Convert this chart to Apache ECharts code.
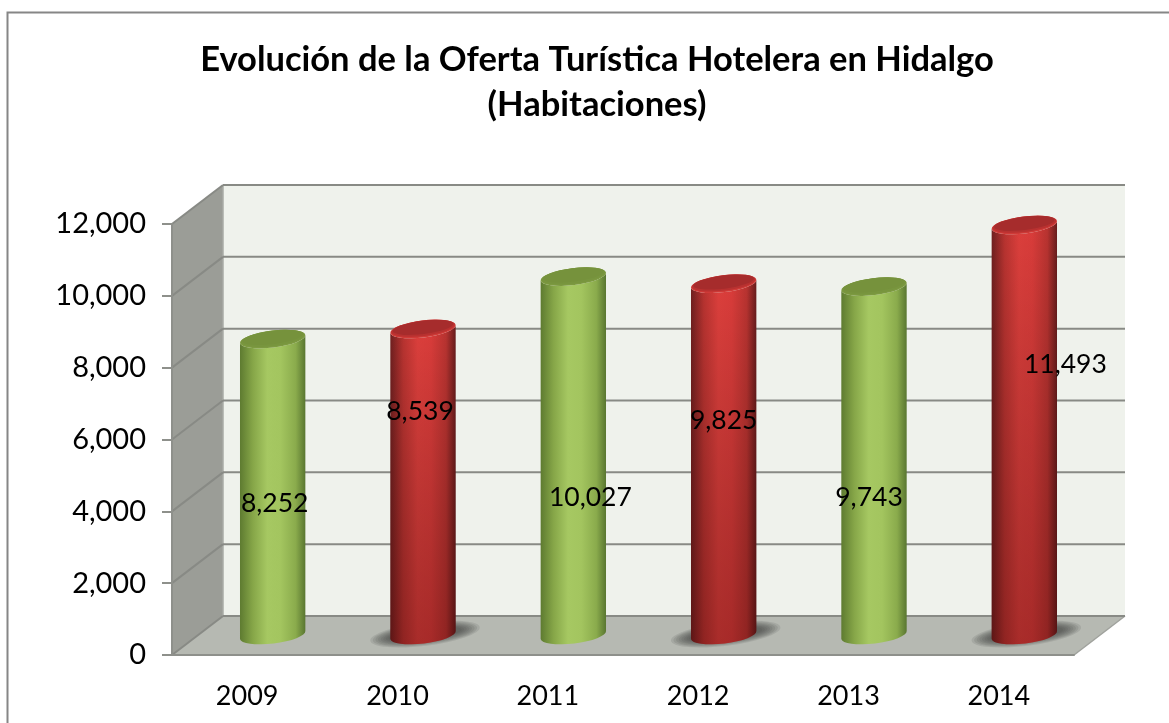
<!DOCTYPE html>
<html>
<head>
<meta charset="utf-8">
<title>Oferta Turística Hotelera en Hidalgo</title>
<script src="https://cdn.jsdelivr.net/npm/echarts@6/dist/echarts.min.js"></script>
<style>
    html, body { margin: 0; padding: 0; background: #fff; }
    #main { width: 1169px; height: 723px; }
</style>
</head>
<body>
<div id="main"></div>
<script>
var years = ['2009', '2010', '2011', '2012', '2013', '2014'];
var rooms = [8252, 8539, 10027, 9825, 9743, 11493];
var barKinds = ['green', 'red', 'green', 'red', 'green', 'red'];
var yTicks = [0, 2000, 4000, 6000, 8000, 10000, 12000];

// labels were dragged by hand in the original, px from the top of each cylinder
var labelShift = [[2, 164], [-3, 83], [17, 221], [0, 137], [-5, 211], [41, 139]];

var FONT = 'Lato, "Open Sans", sans-serif';
var DEPTH_X = 51, DEPTH_Y = -39; // back wall offset
var BAR_X = 25.5, BAR_Y = -20;   // cylinders stand mid floor
var BAR_SCALE = 0.98, BAR_LIFT = 5.5; // heights shrink a bit mid floor in the 3d view
var TILT = -7;

var palette = {
    green: {
        side: ['#5d7a30', '#86a648', '#a6c862', '#a3c55f', '#8aab4c', '#587530'],
        rim: '#7d9a41', mid: '#78953e', inner: '#76923c', shade: 'rgba(0,0,0,0)'
    },
    red: {
        side: ['#6e1f1f', '#b83330', '#dc3f3c', '#d93c3a', '#b83330', '#651c1c'],
        rim: '#cf3a37', mid: '#b83130', inner: '#a62c2c', shade: 'rgba(50,0,0,0.3)'
    }
};

function ellipsePath(cx, cy, rx, ry) {
    var a = TILT * Math.PI / 180;
    var ax = rx * Math.cos(a), ay = rx * Math.sin(a);
    return 'M' + (cx - ax) + ' ' + (cy - ay) +
        'A' + rx + ' ' + ry + ' ' + TILT + ' 1 1 ' + (cx + ax) + ' ' + (cy + ay) +
        'A' + rx + ' ' + ry + ' ' + TILT + ' 1 1 ' + (cx - ax) + ' ' + (cy - ay) + 'Z';
}

function bodyPath(cx, topY, botY, rx, ry) {
    var a = TILT * Math.PI / 180;
    var ax = rx * Math.cos(a), ay = rx * Math.sin(a);
    return 'M' + (cx - ax) + ' ' + (topY - ay) +
        'L' + (cx - ax) + ' ' + (botY - ay) +
        'A' + rx + ' ' + ry + ' ' + TILT + ' 0 0 ' + (cx + ax) + ' ' + (botY + ay) +
        'L' + (cx + ax) + ' ' + (topY + ay) +
        'A' + rx + ' ' + ry + ' ' + TILT + ' 0 1 ' + (cx - ax) + ' ' + (topY - ay) + 'Z';
}

function sideFill(stops) {
    return new echarts.graphic.LinearGradient(0, 0, 1, 0, [
        {offset: 0, color: stops[0]},
        {offset: 0.2, color: stops[1]},
        {offset: 0.42, color: stops[2]},
        {offset: 0.62, color: stops[3]},
        {offset: 0.85, color: stops[4]},
        {offset: 1, color: stops[5]}
    ]);
}

function renderWalls(params, api) {
    var box = params.coordSys;
    var y = api.coord([0, api.value(1)])[1];
    var left = box.x, right = box.x + box.width;
    var floorY = box.y + box.height, topY = box.y;
    var line = {stroke: '#888a85', lineWidth: 2, fill: null};
    var kids = [];
    if (params.dataIndex === 0) {
        kids.push({
            type: 'rect',
            shape: {x: left + DEPTH_X, y: topY + DEPTH_Y, width: box.width, height: box.height},
            style: {fill: '#eff2ec'}
        }, {
            type: 'polygon',
            shape: {points: [[left, topY], [left + DEPTH_X, topY + DEPTH_Y], [left + DEPTH_X, floorY + DEPTH_Y], [left, floorY]]},
            style: {fill: '#9b9d97'}
        }, {
            type: 'polygon',
            shape: {points: [[left, floorY], [left + DEPTH_X, floorY + DEPTH_Y], [right + DEPTH_X, floorY + DEPTH_Y], [right, floorY]]},
            style: {fill: '#b6b9b2'}
        }, {
            type: 'line',
            shape: {x1: right, y1: floorY, x2: right + DEPTH_X, y2: floorY + DEPTH_Y},
            style: {stroke: '#a0a29d', lineWidth: 1.5}
        }, {
            type: 'line',
            shape: {x1: left + DEPTH_X, y1: topY + DEPTH_Y, x2: left + DEPTH_X, y2: floorY + DEPTH_Y},
            style: {stroke: '#a9aba6', lineWidth: 1.5}
        });
    }
    kids.push({
        type: 'line',
        shape: {x1: left, y1: y, x2: left + DEPTH_X, y2: y + DEPTH_Y},
        style: line
    }, {
        type: 'line',
        shape: {x1: left + DEPTH_X, y1: y + DEPTH_Y, x2: right + DEPTH_X, y2: y + DEPTH_Y},
        style: line
    });
    return {type: 'group', children: kids};
}

function renderCylinder(params, api) {
    var i = api.value(0), v = api.value(1);
    var kind = palette[barKinds[i]];
    var rx = api.size([1, 0])[0] * 0.219, ry = 8.5;
    var base = api.coord([i, 0]), top = api.coord([i, v]);
    var cx = base[0] + BAR_X, botY = base[1] + BAR_Y;
    var topY = botY - BAR_LIFT - (base[1] - top[1]) * BAR_SCALE;
    var kids = [];
    if (barKinds[i] === 'red') {
        // soft shadow on the floor, stacked ellipses
        for (var s = 7; s >= 0; s--) {
            kids.push({
                type: 'path',
                shape: {pathData: ellipsePath(cx + 2, botY - 1, rx + 4 + s * 2.6, ry - 3 + s * 0.9)},
                style: {fill: 'rgba(60,62,60,0.13)'}
            });
        }
    }
    kids.push({
        type: 'path',
        shape: {pathData: bodyPath(cx, topY, botY, rx, ry)},
        style: {fill: sideFill(kind.side)}
    }, {
        type: 'path',
        shape: {pathData: bodyPath(cx, topY, botY, rx, ry)},
        style: {fill: new echarts.graphic.LinearGradient(0, 0, 0, 1, [
            {offset: 0, color: 'rgba(0,0,0,0)'},
            {offset: 1, color: kind.shade}
        ])}
    }, {
        type: 'path',
        shape: {pathData: ellipsePath(cx, topY, rx, ry)},
        style: {fill: kind.rim}
    }, {
        type: 'path',
        shape: {pathData: ellipsePath(cx, topY - 0.7, rx - 1, ry - 0.8)},
        style: {fill: kind.mid}
    }, {
        type: 'path',
        shape: {pathData: ellipsePath(cx, topY - 1.5, rx - 2.5, ry - 2)},
        style: {fill: kind.inner}
    }, {
        type: 'text',
        z2: 10,
        style: {
            text: v.toLocaleString('en-US'),
            x: cx + labelShift[i][0],
            y: topY + labelShift[i][1],
            fill: '#000',
            font: '26.5px ' + FONT,
            textAlign: 'center',
            textVerticalAlign: 'middle'
        }
    });
    return {type: 'group', children: kids};
}

var chart = echarts.init(document.getElementById('main'), null, {renderer: 'canvas'});
chart.setOption({
    animation: false,
    backgroundColor: '#fff',
    graphic: [{
        type: 'polyline',
        shape: {points: [[7.5, 723], [7.5, 12.5], [1169, 12.5]]},
        style: {stroke: '#868686', lineWidth: 2, fill: null}
    }],
    title: {
        text: 'Evolución de la Oferta Turística Hotelera en Hidalgo\n(Habitaciones)',
        left: 592,
        top: 32,
        textAlign: 'center',
        textStyle: {fontFamily: FONT, fontWeight: 'bold', fontSize: 34.5, lineHeight: 45, color: '#000'}
    },
    grid: {left: 172, top: 224, width: 902, height: 431},
    xAxis: {
        type: 'category',
        data: years,
        z: 5,
        axisLine: {lineStyle: {color: '#8e908b', width: 2}},
        axisTick: {length: 10, lineStyle: {color: '#8e908b', width: 2}},
        axisLabel: {fontFamily: FONT, fontSize: 27, color: '#000', margin: 28}
    },
    yAxis: {
        type: 'value',
        min: 0,
        max: 12000,
        interval: 2000,
        z: 5,
        splitLine: {show: false},
        axisLine: {show: true, lineStyle: {color: '#8e908b', width: 2}},
        axisTick: {show: true, length: 10, lineStyle: {color: '#8e908b', width: 2}},
        axisLabel: {
            fontFamily: FONT, fontSize: 29, color: '#000', margin: 26, padding: [4, 0, 0, 0],
            formatter: function (v) { return v.toLocaleString('en-US'); }
        }
    },
    series: [{
        type: 'custom',
        name: 'paredes',
        z: 1,
        silent: true,
        clip: false,
        renderItem: renderWalls,
        data: yTicks.map(function (t) { return [0, t]; })
    }, {
        type: 'custom',
        name: 'Habitaciones',
        z: 2,
        clip: false,
        renderItem: renderCylinder,
        data: rooms.map(function (v, i) { return [i, v]; })
    }]
});
</script>
</body>
</html>
